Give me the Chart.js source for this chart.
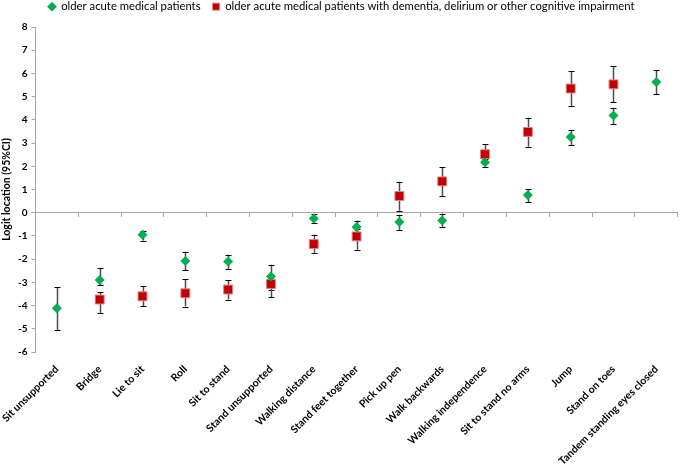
<!DOCTYPE html>
<html>
<head>
<meta charset="utf-8">
<script src="https://cdn.jsdelivr.net/npm/chart.js@4/dist/chart.umd.min.js"></script>
<style>
  html, body { margin: 0; padding: 0; background: #fff; }
  #wrap { width: 685px; height: 466px; }
</style>
</head>
<body>
<div id="wrap"><canvas id="chart"></canvas></div>
<script>
const items = ['Sit unsupported', 'Bridge', 'Lie to sit', 'Roll', 'Sit to stand', 'Stand unsupported',
  'Walking distance', 'Stand feet together', 'Pick up pen', 'Walk backwards', 'Walking independence',
  'Sit to stand no arms', 'Jump', 'Stand on toes', 'Tandem standing eyes closed'];

// older acute medical patients
const allLogit = [-4.12, -2.9, -0.95, -2.08, -2.1, -2.75, -0.25, -0.62, -0.4, -0.34, 2.17, 0.76, 3.26, 4.19, 5.63];
const allLo    = [-5.05, -3.11, -1.2, -2.48, -2.42, -3.32, -0.43, -0.92, -0.73, -0.63, 1.98, 0.46, 2.92, 3.81, 5.1];
const allHi    = [-3.22, -2.39, -0.77, -1.68, -1.81, -2.24, -0.05, -0.34, -0.09, -0.04, 2.32, 1.02, 3.58, 4.52, 6.15];

// with dementia, delirium or other cognitive impairment
const cogLogit = [null, -3.74, -3.6, -3.47, -3.31, -3.07, -1.35, -1.02, 0.72, 1.35, 2.52, 3.48, 5.35, 5.53, null];
const cogLo    = [null, -4.32, -4.03, -4.04, -3.74, -3.64, -1.73, -1.6, 0.09, 0.7, 2.15, 2.85, 4.6, 4.76, null];
const cogHi    = [null, -3.43, -3.17, -2.87, -2.9, -2.7, -0.95, -0.7, 1.33, 1.95, 2.95, 4.09, 6.09, 6.31, null];

const yTicks = [-6, -5, -4, -3, -2, -1, 0, 1, 2, 3, 4, 5, 6, 7, 8];

const axisGrey = '#a6a6a6';
const font = 'Lato';

// whiskers for the 95% CI, drawn under the markers
const errorBars = {
  id: 'errorBars',
  beforeDatasetsDraw(chart) {
    const { ctx } = chart;
    const y = chart.scales.y;
    chart.data.datasets.forEach((ds, i) => {
      const meta = chart.getDatasetMeta(i);
      meta.data.forEach((pt, j) => {
        if (ds.lo[j] == null) return;
        const x = Math.round(pt.x) + 0.5;
        const y1 = y.getPixelForValue(ds.lo[j]);
        const y2 = y.getPixelForValue(ds.hi[j]);
        ctx.save();
        ctx.strokeStyle = '#4d4d4d';
        ctx.lineWidth = 1.5;
        ctx.beginPath();
        ctx.moveTo(x, y1);
        ctx.lineTo(x, y2);
        ctx.stroke();
        ctx.strokeStyle = '#000';
        ctx.lineWidth = 1;
        ctx.beginPath();
        ctx.moveTo(x - 3, Math.round(y1) + 0.5);
        ctx.lineTo(x + 3, Math.round(y1) + 0.5);
        ctx.moveTo(x - 3, Math.round(y2) + 0.5);
        ctx.lineTo(x + 3, Math.round(y2) + 0.5);
        ctx.stroke();
        ctx.restore();
      });
    });
  }
};

// keep the legend strip short, so the plot starts right under it
const legendHeight = {
  id: 'legendHeight',
  beforeInit(chart) {
    const fit = chart.legend.fit;
    chart.legend.fit = function () {
      fit.call(this);
      this.height = 38;
    };
  }
};

new Chart(document.getElementById('chart'), {
  type: 'line',
  data: {
    labels: items,
    datasets: [
      {
        label: 'older acute medical patients',
        data: allLogit,
        lo: allLo,
        hi: allHi,
        showLine: false,
        pointStyle: 'rectRot',
        pointRadius: 5,
        pointHoverRadius: 5,
        backgroundColor: '#00b050',
        borderColor: '#00b050',
        pointBorderWidth: 0
      },
      {
        label: 'older acute medical patients with dementia, delirium or other cognitive impairment',
        data: cogLogit,
        lo: cogLo,
        hi: cogHi,
        showLine: false,
        pointStyle: 'rect',
        pointRadius: 6.3,
        pointHoverRadius: 6.3,
        backgroundColor: '#c00000',
        borderColor: '#e08080',
        pointBorderWidth: 1
      }
    ]
  },
  options: {
    responsive: true,
    maintainAspectRatio: false,
    animation: false,
    layout: { padding: { top: -11, right: 2, left: 0, bottom: 0 } },
    plugins: {
      legend: {
        position: 'top',
        labels: {
          usePointStyle: true,
          boxWidth: 7,
          boxHeight: 7,
          padding: 12,
          color: '#000',
          font: { family: font, size: 11.3 }
        }
      },
      tooltip: { enabled: false }
    },
    scales: {
      x: {
        type: 'category',
        offset: true,
        grid: { display: false },
        border: { display: false },
        ticks: {
          autoSkip: false,
          maxRotation: 45,
          minRotation: 45,
          padding: 3,
          color: '#000',
          font: { family: font, size: 10.5, weight: 'bold' }
        },
        afterFit: s => { s.height = 114; }
      },
      x0: {
        axis: 'x',
        type: 'category',
        labels: items,
        position: { y: 0 },
        offset: true,
        grid: { offset: true, drawOnChartArea: false, drawTicks: true, tickLength: 4, color: axisGrey },
        border: { display: true, color: axisGrey, width: 1 },
        ticks: { display: false }
      },
      y: {
        min: -6,
        max: 8,
        afterBuildTicks: s => { s.ticks = yTicks.map(v => ({ value: v })); },
        grid: { drawOnChartArea: false, drawTicks: true, tickLength: 4, color: axisGrey },
        border: { display: true, color: axisGrey, width: 1 },
        ticks: {
          padding: 4,
          color: '#000',
          font: { family: font, size: 10, weight: 'bold' }
        },
        title: {
          display: true,
          text: 'Logit location (95%CI)',
          color: '#000',
          padding: 0,
          font: { family: font, size: 10.5, weight: 'bold' }
        },
        afterFit: s => { s.width = 35; }
      }
    }
  },
  plugins: [errorBars, legendHeight]
});
</script>
</body>
</html>
